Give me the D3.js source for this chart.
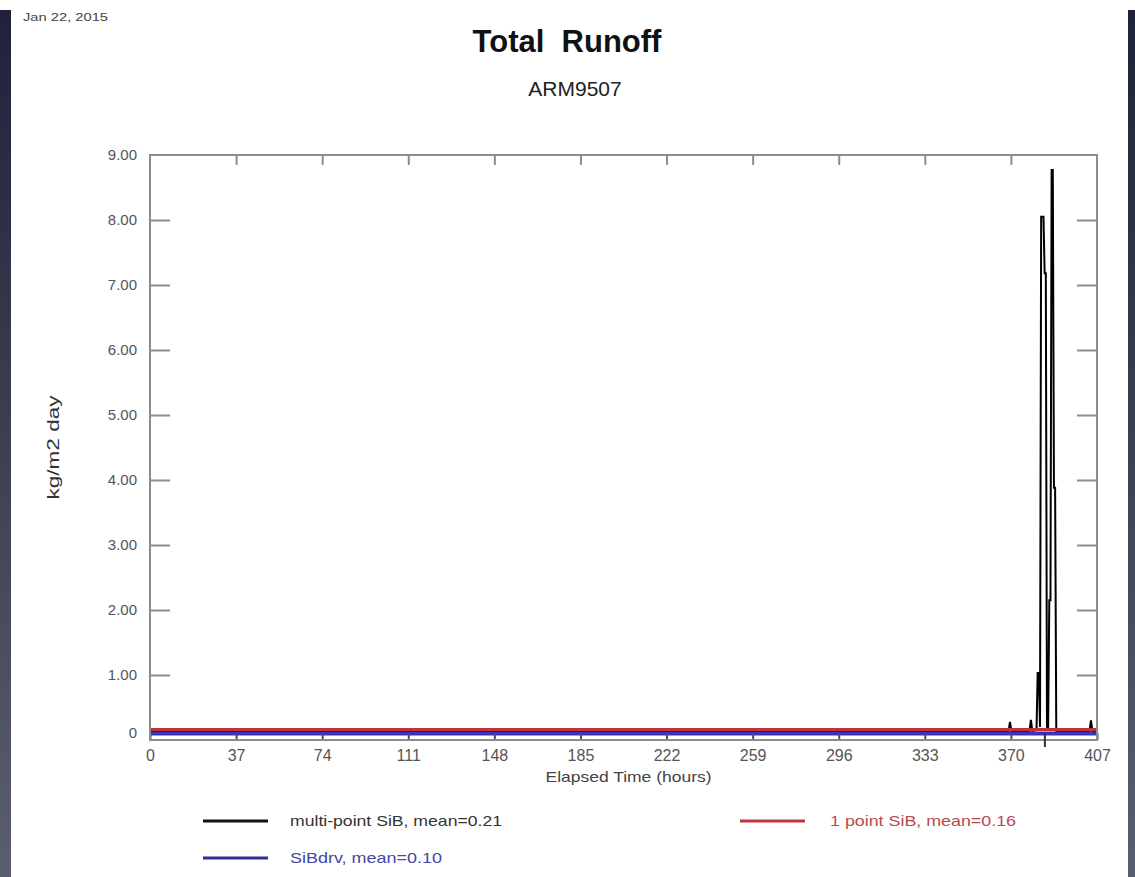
<!DOCTYPE html>
<html lang="en">

<head>
    <meta charset="UTF-8">
    <title>Total Runoff</title>
    <script src="https://cdn.jsdelivr.net/npm/d3@7/dist/d3.min.js"></script>
    <style>
        body { margin: 0; background: #fff; }
        svg { display: block; font-family: "Liberation Sans", Arial, sans-serif; }
    </style>
</head>

<body>
    <svg width="1135" height="877" id="mainsvg"></svg>
    <script>
        // tick values
        const xTicks = [0, 37, 74, 111, 148, 185, 222, 259, 296, 333, 370, 407];
        const yTicks = [0, 1, 2, 3, 4, 5, 6, 7, 8, 9];

        // multi-point SiB (hours, kg/m2 day) - flat near zero, spikes near the end
        const multiHours = [0, 369, 369.6, 370.2, 378, 378.6, 379.2, 381, 381.5, 382, 382.5, 383, 383.5, 384,
            384.5, 385, 385.5, 386, 386.5, 387, 387.5, 388, 388.5, 389, 389.5, 403.8, 404.4, 405, 407];
        const multiValues = [0.14, 0.14, 0.28, 0.14, 0.14, 0.31, 0.14, 0.15, 1.03, 1.03, 0.2, 8.05, 8.05, 8.05,
            7.18, 7.18, 0.2, 0.2, 2.15, 2.15, 8.77, 8.77, 3.88, 3.88, 0.14, 0.14, 0.3, 0.14, 0.14];
        // 1 point SiB
        const oneHours = [0, 407];
        const oneValues = [0.16, 0.16];
        // SiBdrv
        const drvHours = [0, 407];
        const drvValues = [0.10, 0.10];
        // odd mark under the x axis
        const markerHour = 384.6;

        const legendItems = [
            { label: 'multi-point SiB, mean=0.21', line: '#111', text: '#333', col: 0, row: 0, len: 212 },
            { label: '1 point SiB, mean=0.16', line: '#c0323c', text: '#b84a4e', col: 1, row: 0, len: 186 },
            { label: 'SiBdrv, mean=0.10', line: '#2e2f9a', text: '#4546a6', col: 0, row: 1, len: 152 }
        ];

        const svg = d3.select('#mainsvg');
        const width = +svg.attr('width');
        const height = +svg.attr('height');
        const margin = { top: 155, right: 38, bottom: 137, left: 150 };

        // slide background strips
        const grad = svg.append('defs').append('linearGradient')
            .attr('id', 'strip').attr('x1', 0).attr('y1', 0).attr('x2', 0).attr('y2', 1);
        grad.append('stop').attr('offset', '0%').attr('stop-color', '#1f2238');
        grad.append('stop').attr('offset', '100%').attr('stop-color', '#5a5e71');
        svg.append('rect').attr('x', 0).attr('y', 10).attr('width', 11).attr('height', height - 10).attr('fill', 'url(#strip)');
        svg.append('rect').attr('x', 1128).attr('y', 10).attr('width', 7).attr('height', height - 10).attr('fill', 'url(#strip)');

        svg.append('text').attr('x', 23).attr('y', 21).attr('font-size', 10.5).attr('fill', '#444')
            .attr('textLength', 85).attr('lengthAdjust', 'spacingAndGlyphs').text('Jan 22, 2015');
        svg.append('text').attr('x', 567).attr('y', 52).attr('text-anchor', 'middle')
            .attr('font-size', 31).attr('font-weight', 'bold').attr('fill', '#111')
            .attr('xml:space', 'preserve').text('Total  Runoff');
        svg.append('text').attr('x', 575).attr('y', 96).attr('text-anchor', 'middle')
            .attr('font-size', 21).attr('fill', '#222').text('ARM9507');

        const xScale = d3.scaleLinear().domain([0, 407]).range([margin.left, width - margin.right]);
        const yScale = d3.scaleLinear().domain([0, 9]).range([height - margin.bottom, margin.top]);
        const x0 = xScale.range()[0], x1 = xScale.range()[1];
        const y0 = yScale.range()[0], y1 = yScale.range()[1];

        const axisColor = '#8c8c8c';
        const labelColor = '#555';

        // series
        const line = d3.line().x(d => xScale(d[0])).y(d => yScale(d[1]));
        const g = svg.append('g').attr('id', 'series');
        g.append('path').datum(d3.zip(multiHours, multiValues)).attr('d', line)
            .attr('fill', 'none').attr('stroke', '#000').attr('stroke-width', 2);
        g.append('path').datum(d3.zip(oneHours, oneValues)).attr('d', line)
            .attr('fill', 'none').attr('stroke', '#c0323c').attr('stroke-width', 3);
        g.append('path').datum(d3.zip(drvHours, drvValues)).attr('d', line)
            .attr('fill', 'none').attr('stroke', '#3a33b8').attr('stroke-width', 4);

        // axes
        const styleAxis = (sel, size) => {
            sel.select('.domain').remove();
            sel.selectAll('.tick line').attr('stroke', axisColor).attr('stroke-width', 2);
            sel.selectAll('.tick text').attr('fill', labelColor).attr('font-size', size)
                .attr('font-family', '"Liberation Sans", Arial, sans-serif');
        };
        svg.append('g').attr('transform', `translate(0, ${y0})`)
            .call(d3.axisBottom(xScale).tickValues(xTicks).tickSize(-7).tickPadding(10).tickFormat(d3.format('d')))
            .call(styleAxis, 16)
            .call(s => s.selectAll('.tick line').attr('stroke', '#4a4a6a'));
        svg.append('g').attr('transform', `translate(0, ${y1})`)
            .call(d3.axisTop(xScale).tickValues(xTicks.slice(1, -1)).tickSize(-10).tickFormat(''))
            .call(styleAxis, 16);
        svg.append('g').attr('transform', `translate(${x0}, 0)`)
            .call(d3.axisLeft(yScale).tickValues(yTicks).tickSize(-20).tickPadding(13)
                .tickFormat(d => d === 0 ? '0' : d3.format('.2f')(d)))
            .call(styleAxis, 15)
            .call(s => s.selectAll('.tick').filter(d => d === 0 || d === 9).select('line').remove())
            .call(s => s.selectAll('.tick').filter(d => d === 0).select('text').attr('dy', '-0.15em'));
        svg.append('g').attr('transform', `translate(${x1}, 0)`)
            .call(d3.axisRight(yScale).tickValues(yTicks.slice(1, -1)).tickSize(-20).tickFormat(''))
            .call(styleAxis, 15);

        // frame
        svg.append('rect').attr('x', x0).attr('y', y1).attr('width', x1 - x0).attr('height', y0 - y1)
            .attr('fill', 'none').attr('stroke', axisColor).attr('stroke-width', 2);

        svg.append('line').attr('x1', xScale(markerHour)).attr('x2', xScale(markerHour))
            .attr('y1', y0 - 7).attr('y2', y0 + 7).attr('stroke', '#333').attr('stroke-width', 2);

        svg.append('text').attr('x', (x0 + x1) / 2 + 5).attr('y', y0 + 42).attr('text-anchor', 'middle')
            .attr('font-size', 15).attr('fill', '#444')
            .attr('textLength', 166).attr('lengthAdjust', 'spacingAndGlyphs').text('Elapsed Time (hours)');
        svg.append('text').attr('transform', `translate(59, ${(y0 + y1) / 2}) rotate(-90)`)
            .attr('text-anchor', 'middle').attr('font-size', 17).attr('fill', '#333')
            .attr('textLength', 104).attr('lengthAdjust', 'spacingAndGlyphs').text('kg/m2 day');

        // legend
        const legend = svg.append('g').attr('id', 'legend');
        const item = legend.selectAll('g').data(legendItems).join('g')
            .attr('transform', d => `translate(${d.col ? 740 : 203}, ${d.row ? 858 : 821})`);
        item.append('line').attr('x1', 0).attr('x2', 65).attr('stroke', d => d.line).attr('stroke-width', 3);
        item.append('text').attr('x', d => d.col ? 90 : 87).attr('dy', '0.35em')
            .attr('font-size', 15).attr('fill', d => d.text)
            .attr('textLength', d => d.len).attr('lengthAdjust', 'spacingAndGlyphs').text(d => d.label);
    </script>
</body>

</html>
